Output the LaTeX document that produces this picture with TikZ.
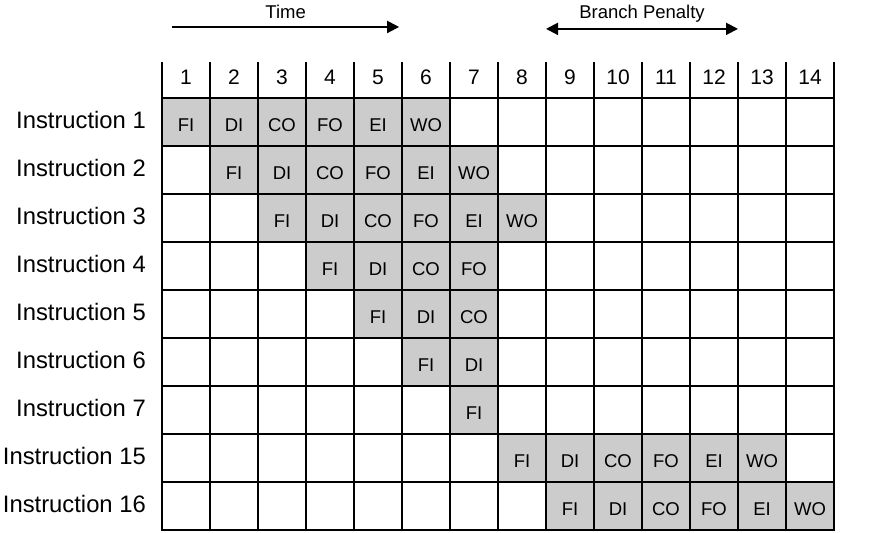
\documentclass[tikz,border=0pt]{standalone}
\usepackage{fontspec}
\setmainfont{Liberation Sans}
\usetikzlibrary{arrows.meta}

\begin{document}
\begin{tikzpicture}[x=48pt,y=48pt,>={Triangle[length=12pt,width=12pt]},
  stage/.style={inner sep=0pt,font=\fontsize{18.5}{20}\selectfont},
  rule/.style={line width=2.5pt},
  instr/.style={anchor=east,inner sep=0pt,font=\fontsize{23.8}{26}\selectfont},
  cyc/.style={inner sep=0pt,font=\fontsize{21}{23}\selectfont},
  note/.style={inner sep=0pt,font=\fontsize{18.5}{20}\selectfont}]
\useasboundingbox (-3.375,2.0417) rectangle (14.729,-9.0417);
% shaded stages
\foreach \r/\c/\st in {1/1/{FI,DI,CO,FO,EI,WO},2/2/{FI,DI,CO,FO,EI,WO},
    3/3/{FI,DI,CO,FO,EI,WO},4/4/{FI,DI,CO,FO},5/5/{FI,DI,CO},6/6/{FI,DI},
    7/7/{FI},8/8/{FI,DI,CO,FO,EI,WO},9/9/{FI,DI,CO,FO,EI,WO}}
  \foreach \s [count=\k from \c] in \st {
    \fill[gray!40] (\k-1,-\r) rectangle (\k,-\r+1);
    \node[stage] (s-\r-\k) at (\k-.5,-\r+.44) {\s};
  }
% grid
\foreach \r in {0,...,9}
  \draw[rule,line cap=rect] (0,-\r)--(14,-\r);
\foreach \k in {0,...,14}
  \draw[rule] (\k,.75)--(\k,-9);
% cycle numbers
\foreach \k in {1,...,14}
  \node[cyc] (n\k) at (\k-.5,.4375) {\k};
% instruction labels
\foreach \r/\i in {1/1,2/2,3/3,4/4,5/5,6/6,7/7,8/15,9/16}
  \node[instr] (i\r) at (-.333,-\r+.54) {Instruction \i};
% time and penalty
\coordinate (t0) at (.21,1.48);
\coordinate (t1) at (4.94,1.48);
\draw[->,line width=2pt] (t0)--node[note,above=7pt] (time) {Time}(t1);
\coordinate (b0) at (8,1.44);
\coordinate (b1) at (12,1.44);
\draw[<->,line width=2pt] (b0)--node[note,above=6pt] (pen) {Branch Penalty}(b1);
\end{tikzpicture}
\end{document}
